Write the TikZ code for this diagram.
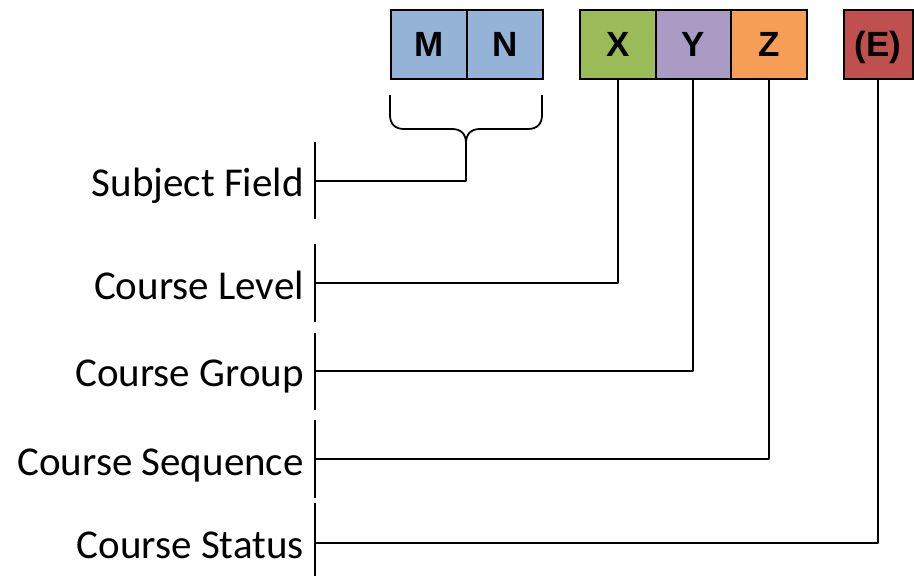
\documentclass[tikz,border=0pt]{standalone}
\usepackage{fontspec}
\setmainfont{Carlito}
\newfontfamily\cellfont{Liberation Sans}
\definecolor{mnblue}{HTML}{95B3D7}
\definecolor{xgreen}{HTML}{9BBB59}
\definecolor{ypurple}{HTML}{AA9BC4}
\definecolor{zorange}{HTML}{F69D56}
\definecolor{ered}{HTML}{C0504D}
\begin{document}
\begin{tikzpicture}[x=1pt,y=-1pt,
  cell/.style={draw=black, line width=1.5pt, minimum width=76pt, minimum height=69pt,
    inner sep=0pt, anchor=north west, text height=25pt, text depth=0pt,
    font=\cellfont\fontsize{35}{38}\selectfont\bfseries},
  fieldlabel/.style={anchor=base east, inner sep=0pt, font=\fontsize{41}{44}\selectfont},
  wire/.style={line width=1.8pt, line join=round}]
\useasboundingbox (0,0) rectangle (914,576);

% code boxes
\node[cell, fill=mnblue] (M) at (390,9) {M};
\node[cell, fill=mnblue] (N) at (466,9) {N};
\node[cell, fill=xgreen] (X) at (579,9) {X};
\node[cell, fill=ypurple, minimum width=75pt] (Y) at (655,9) {Y};
\node[cell, fill=zorange] (Z) at (730,9) {Z};
\node[cell, fill=ered, minimum width=69pt] (E) at (843,9) {(E)};

% field labels
\node[fieldlabel] (sfl) at (304,196) {Subject Field};
\node[fieldlabel] (cll) at (304,299) {Course Level};
\node[fieldlabel] (cgl) at (304,386) {Course Group};
\node[fieldlabel] (csl) at (304,475) {Course Sequence};
\node[fieldlabel] (cstl) at (304,558) {Course Status};

% separator bars beside the labels
\draw[wire] (315,142) -- (315,219);
\draw[wire] (315,244) -- (315,322);
\draw[wire] (315,333) -- (315,410);
\draw[wire] (315,420) -- (315,498);
\draw[wire] (315,503) -- (315,576);

\coordinate (sf) at (315,181);
\coordinate (cl) at (315,283);
\coordinate (cg) at (315,371);
\coordinate (cs) at (315,459);
\coordinate (cst) at (315,543);

% brace under M and N
\coordinate (tip) at (466,143);
\draw[wire] (390,95) -- (390,115) .. controls (390,124) and (395,129) .. (404,129)
  -- (452,129) .. controls (461,129) and (466,134) .. (tip)
  .. controls (466,134) and (471,129) .. (480,129) -- (528,129)
  .. controls (537,129) and (542,124) .. (542,115) -- (542,95);
\draw[wire] (tip) |- (sf);

% connectors from boxes to labels
\draw[wire] (X.south) |- (cl);
\draw[wire] (Y.south) |- (cg);
\draw[wire] (Z.south) |- (cs);
\draw[wire] (E.south) |- (cst);
\end{tikzpicture}
\end{document}
